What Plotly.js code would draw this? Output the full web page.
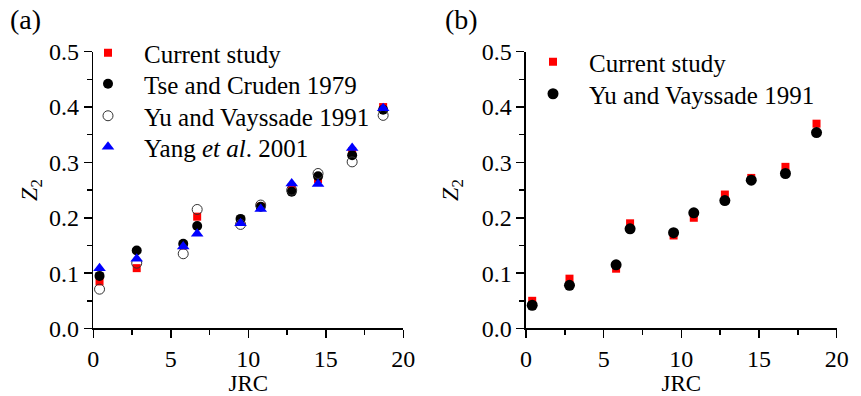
<!DOCTYPE html>
<html>
<head>
<meta charset="utf-8">
<script src="https://cdn.plot.ly/plotly-3.0.1.min.js"></script>
<style>html,body{margin:0;padding:0;background:#fff;}#chart{width:861px;height:396px;}</style>
</head>
<body>
<div id="chart"></div>
<script>
// ---- Data: panel (a) ----
const jrcA = [0.4, 2.8, 5.8, 6.7, 9.5, 10.8, 12.8, 14.5, 16.7, 18.7];
const currentA = [0.085, 0.109, 0.150, 0.202, 0.195, 0.220, 0.255, 0.270, 0.320, 0.400];
const tseCruden = [0.095, 0.141, 0.153, 0.185, 0.198, 0.220, 0.247, 0.275, 0.313, 0.395];
const yuVayssadeA = [0.071, 0.118, 0.135, 0.215, 0.188, 0.223, 0.250, 0.280, 0.301, 0.385];
const yang2001 = [0.109, 0.126, 0.148, 0.171, 0.190, 0.216, 0.262, 0.261, 0.326, 0.398];

// ---- Data: panel (b) ----
const jrcB = [0.4, 2.8, 5.8, 6.7, 9.5, 10.8, 12.8, 14.5, 16.7, 18.7];
const currentB = [0.050, 0.090, 0.108, 0.190, 0.168, 0.200, 0.242, 0.272, 0.292, 0.370];
const yuVayssadeB = [0.042, 0.078, 0.115, 0.180, 0.173, 0.209, 0.231, 0.268, 0.280, 0.354];

const names = {
  current: 'Current study',
  tse: 'Tse and Cruden 1979',
  yu: 'Yu and Vayssade 1991',
  yang: 'Yang <i>et al</i>. 2001'
};

const FONT = '"Liberation Serif", "Times New Roman", serif';

const traces = [
  {x: jrcA, y: currentA, name: names.current, type: 'scatter', mode: 'markers',
   marker: {symbol: 'square', size: 8, color: '#ff0000'}, xaxis: 'x', yaxis: 'y', legend: 'legend', cliponaxis: false},
  {x: jrcA, y: tseCruden, name: names.tse, type: 'scatter', mode: 'markers',
   marker: {symbol: 'circle', size: 10, color: '#000000'}, xaxis: 'x', yaxis: 'y', legend: 'legend2', cliponaxis: false},
  {x: jrcA, y: yuVayssadeA, name: names.yu, type: 'scatter', mode: 'markers',
   marker: {symbol: 'circle-open', size: 10, color: '#333333', line: {width: 1}}, xaxis: 'x', yaxis: 'y', legend: 'legend3', cliponaxis: false},
  {x: jrcA, y: yang2001, name: names.yang, type: 'scatter', mode: 'markers',
   marker: {symbol: 'triangle-up', size: 11, color: '#0000ff'}, xaxis: 'x', yaxis: 'y', legend: 'legend4', cliponaxis: false},
  {x: jrcB, y: currentB, name: names.current, type: 'scatter', mode: 'markers',
   marker: {symbol: 'square', size: 8, color: '#ff0000'}, xaxis: 'x2', yaxis: 'y2', legend: 'legend5', cliponaxis: false},
  {x: jrcB, y: yuVayssadeB, name: names.yu, type: 'scatter', mode: 'markers',
   marker: {symbol: 'circle', size: 11, color: '#000000'}, xaxis: 'x2', yaxis: 'y2', legend: 'legend6', cliponaxis: false}
];

function xAxis(domain, anchor) {
  return {
    domain: domain, anchor: anchor, range: [0, 20], tickvals: [0, 5, 10, 15, 20],
    showline: true, linecolor: '#000', linewidth: 1.5, mirror: false,
    ticks: 'outside', ticklen: 8, tickwidth: 1.5, tickcolor: '#000',
    minor: {dtick: 2.5, ticks: 'outside', ticklen: 5, tickwidth: 1.5, tickcolor: '#000'},
    showgrid: false, zeroline: false,
    tickfont: {family: FONT, size: 24, color: '#000'},
    title: {text: 'JRC', font: {family: FONT, size: 23, color: '#000'}, standoff: 4}
  };
}
function yAxis(domain, anchor, standoff) {
  return {
    domain: domain, anchor: anchor, range: [0, 0.5], tickvals: [0, 0.1, 0.2, 0.3, 0.4, 0.5],
    tickformat: '.1f',
    showline: true, linecolor: '#000', linewidth: 1.5, mirror: false,
    ticks: 'outside', ticklen: 8, tickwidth: 1.5, tickcolor: '#000',
    minor: {dtick: 0.05, ticks: 'outside', ticklen: 5, tickwidth: 1.5, tickcolor: '#000'},
    showgrid: false, zeroline: false,
    tickfont: {family: FONT, size: 24, color: '#000'},
    title: {text: '<i>Z</i><sub>2</sub>', font: {family: FONT, size: 24, color: '#000'}, standoff: standoff}
  };
}

function legendAt(px, py) {
  return {x: px / 861, y: 1 - py / 396, xanchor: 'left', yanchor: 'middle', bgcolor: 'rgba(0,0,0,0)',
          font: {family: FONT, size: 25, color: '#000'}, itemwidth: 62, visible: true};
}

const layout = {
  width: 861, height: 396,
  margin: {l: 0, r: 0, t: 0, b: 0},
  paper_bgcolor: '#fff', plot_bgcolor: '#fff',
  font: {family: FONT, color: '#000'},
  showlegend: true,
  xaxis: xAxis([0.1084, 0.4684], 'y'),
  yaxis: yAxis([0.1705, 0.8694], 'x', 4),
  xaxis2: xAxis([0.6109, 0.9718], 'y2'),
  yaxis2: yAxis([0.1705, 0.8694], 'x2', 16),
  legend: legendAt(72, 53),
  legend2: legendAt(72, 84),
  legend3: legendAt(72, 116),
  legend4: legendAt(72, 147),
  legend5: legendAt(517, 62),
  legend6: legendAt(517, 94),
  annotations: [
    {text: '(a)', xref: 'paper', yref: 'paper', x: 8 / 861, y: 1 - 2 / 396, xanchor: 'left', yanchor: 'top',
     showarrow: false, font: {family: FONT, size: 28, color: '#000'}},
    {text: '(b)', xref: 'paper', yref: 'paper', x: 443 / 861, y: 1 - 2 / 396, xanchor: 'left', yanchor: 'top',
     showarrow: false, font: {family: FONT, size: 28, color: '#000'}}
  ]
};

Plotly.newPlot('chart', traces, layout, {displayModeBar: false, staticPlot: true});
</script>
</body>
</html>
